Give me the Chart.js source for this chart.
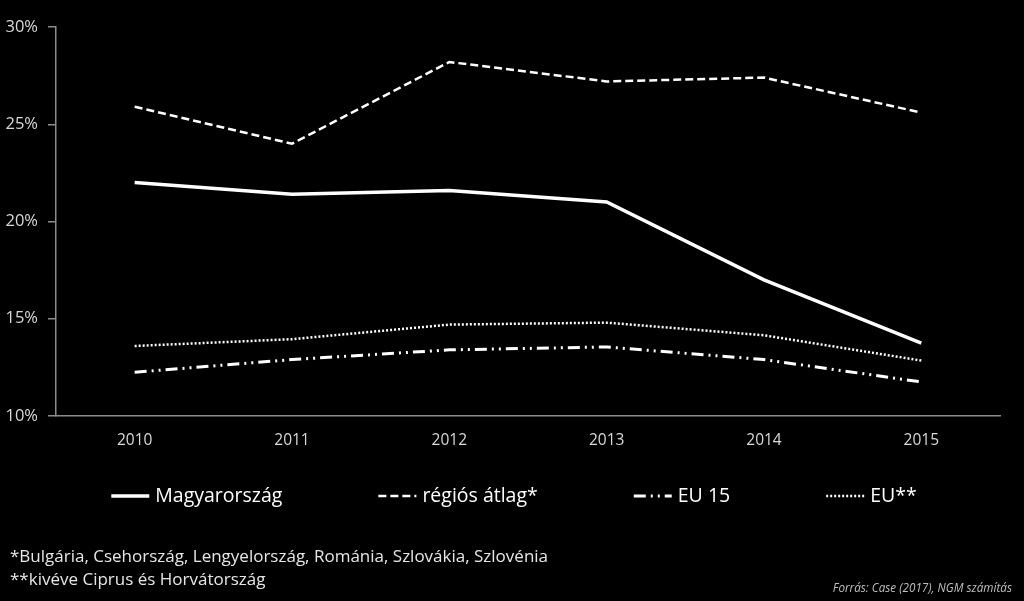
<!DOCTYPE html>
<html>
<head>
<meta charset="utf-8">
<script src="https://cdn.jsdelivr.net/npm/chart.js@4"></script>
<style>
    body { margin: 0; background: #000; width: 1024px; height: 601px; overflow: hidden; position: relative; font-family: 'Open Sans', 'Noto Sans', sans-serif; }
    #doboz { position: absolute; left: 0; top: 0; width: 1024px; height: 601px; }
    .labj { position: absolute; left: 10px; color: #e6e6e6; font-size: 17px; }
    #forras { position: absolute; right: 12px; top: 579px; color: #bfbfbf; font-size: 11.7px; font-style: italic; }
</style>
</head>
<body>
<div id="doboz"><canvas id="vonal"></canvas></div>
<div class="labj" style="top:544px">*Bulgária, Csehország, Lengyelország, Románia, Szlovákia, Szlovénia</div>
<div class="labj" style="top:567px">**kivéve Ciprus és Horvátország</div>
<div id="forras">Forrás: Case (2017), NGM számítás</div>

<script>
// Grafikon adatok
var evek = ['2010', '2011', '2012', '2013', '2014', '2015'];
var magyarorszag = [22.0, 21.4, 21.6, 21.0, 17.0, 13.75];
var regiosAtlag = [25.9, 24.0, 28.2, 27.2, 27.4, 25.6];
var eu15 = [12.25, 12.9, 13.4, 13.55, 12.9, 11.75];
var euCsillag = [13.6, 13.95, 14.7, 14.8, 14.15, 12.85];
var yTickek = [10, 15, 20, 25, 30];

var betu = "'Open Sans', 'Noto Sans', sans-serif";
var szurke = '#8c8c8c';

function sorozat(nev, adat, vastag, szaggat) {
    return {
        label: nev,
        data: adat,
        borderColor: '#ffffff',
        backgroundColor: '#ffffff',
        borderWidth: vastag,
        borderDash: szaggat,
        borderCapStyle: 'butt',
        pointRadius: 0,
        tension: 0,
        fill: false
    };
}

// sajat jelmagyarazat a diagram alatt, nagy kozokkel
var jelmagyarazat = {
    id: 'jelmagyarazat',
    afterDraw: function (chart) {
        var c = chart.ctx;
        var minta = 38, tav = 6, koz = 96;
        var y = chart.chartArea.bottom + 80;
        c.save();
        c.font = '19.5px ' + betu;
        var szelessegek = chart.data.datasets.map(function (ds) {
            return minta + tav + c.measureText(ds.label).width;
        });
        var osszes = szelessegek.reduce(function (a, b) { return a + b; }, 0) + koz * (szelessegek.length - 1);
        var x = (chart.width - osszes) / 2 + 2;
        chart.data.datasets.forEach(function (ds, i) {
            c.beginPath();
            c.setLineDash(ds.borderDash);
            c.lineWidth = ds.borderWidth;
            c.lineCap = 'butt';
            c.strokeStyle = ds.borderColor;
            c.moveTo(x, y);
            c.lineTo(x + minta, y);
            c.stroke();
            c.setLineDash([]);
            c.fillStyle = '#ffffff';
            c.textBaseline = 'middle';
            c.fillText(ds.label, x + minta + tav, y);
            x += szelessegek[i] + koz;
        });
        c.restore();
    }
};

var ctx = document.getElementById('vonal').getContext('2d');

var grafikon = new Chart(ctx, {
    type: 'line',
    data: {
        labels: evek,
        datasets: [
            sorozat('Magyarország', magyarorszag, 3.5, []),
            sorozat('régiós átlag*', regiosAtlag, 2.5, [8, 4]),
            sorozat('EU 15', eu15, 3, [12, 5, 2, 5, 2, 5]),
            sorozat('EU**', euCsillag, 2.5, [2, 2])
        ]
    },
    options: {
        responsive: true,
        maintainAspectRatio: false,
        animation: false,
        layout: { padding: { top: 27, right: 24, left: 0, bottom: 125 } },
        scales: {
            x: {
                offset: true,
                grid: { display: true, drawOnChartArea: false, drawTicks: false },
                border: { display: true, color: szurke, width: 1.5 },
                ticks: { color: '#d9d9d9', padding: 15, font: { family: betu, size: 15.5 } },
                afterFit: function (s) { s.height = 60; }
            },
            y: {
                min: 10,
                max: 30,
                afterBuildTicks: function (s) { s.ticks = yTickek.map(function (v) { return { value: v }; }); },
                grid: { drawOnChartArea: false, drawTicks: true, tickLength: 8, color: szurke, lineWidth: 1.5 },
                border: { display: true, color: szurke, width: 1.5 },
                ticks: {
                    color: '#d9d9d9',
                    padding: 10,
                    font: { family: betu, size: 16.5 },
                    callback: function (v) { return v + '%'; }
                },
                afterFit: function (s) { s.width = 56; }
            }
        },
        plugins: {
            tooltip: { enabled: false },
            legend: { display: false }
        }
    },
    plugins: [jelmagyarazat]
});
</script>
</body>
</html>
